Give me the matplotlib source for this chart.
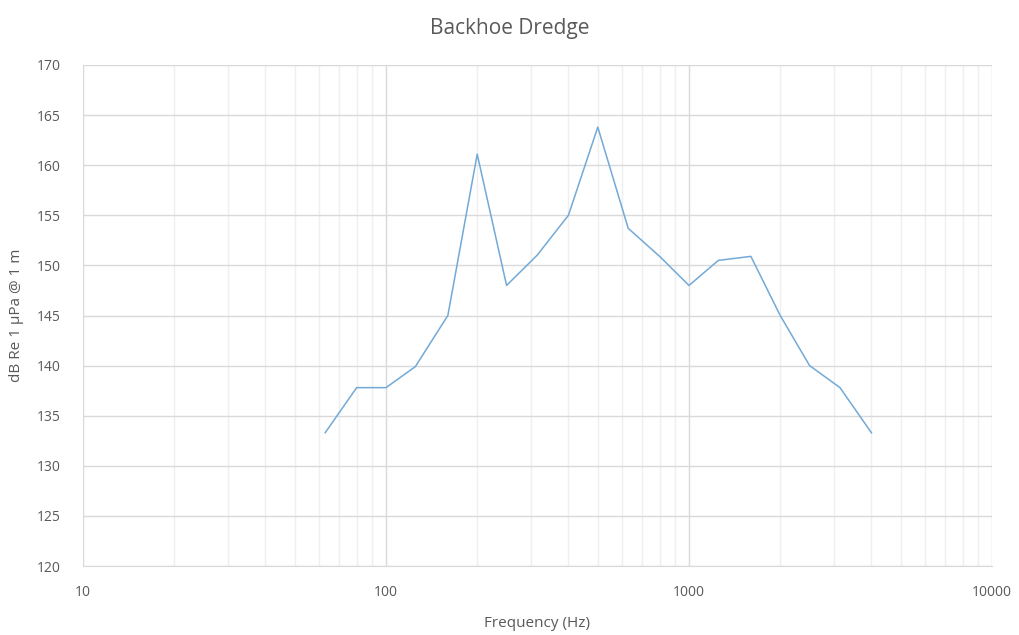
import matplotlib
matplotlib.use("Agg")
import matplotlib.pyplot as plt
from matplotlib.ticker import LogLocator, FixedLocator, FixedFormatter, NullFormatter

# One-third octave band centre frequencies (Hz) and source levels
freq_hz = [63, 80, 100, 125, 160, 200, 250, 315, 400, 500, 630, 800,
           1000, 1250, 1600, 2000, 2500, 3150, 4000]
level_db = [133.3, 137.8, 137.8, 139.9, 145.0, 161.1, 148.0, 151.0, 155.0,
            163.8, 153.7, 150.9, 148.0, 150.5, 150.9, 145.0, 140.0, 137.8, 133.3]

x_ticks = [10, 100, 1000, 10000]
x_tick_labels = ["10", "100", "1000", "10000"]
y_ticks = list(range(120, 171, 5))

plt.rcParams["font.family"] = ["Open Sans", "DejaVu Sans"]
text_color = "#595959"

fig = plt.figure(figsize=(10.19, 6.35), dpi=100)
ax = fig.add_axes([83 / 1019, 69 / 635, (992 - 83) / 1019, (566 - 65) / 635])

ax.plot(freq_hz, level_db, color="#72a9d6", linewidth=1.1, zorder=3)

ax.set_xscale("log")
ax.set_xlim(10, 10000)
ax.set_ylim(120, 170)

ax.xaxis.set_major_locator(FixedLocator(x_ticks))
ax.xaxis.set_major_formatter(FixedFormatter(x_tick_labels))
ax.xaxis.set_minor_locator(LogLocator(base=10, subs=range(2, 10)))
ax.xaxis.set_minor_formatter(NullFormatter())
ax.set_yticks(y_ticks)

ax.grid(which="major", color="#d9d9d9", linewidth=1.0, zorder=0)
ax.grid(which="minor", axis="x", color="#efefef", linewidth=1.0, zorder=0)
ax.set_axisbelow(True)

for side in ["top", "right", "left"]:
    ax.spines[side].set_visible(False)
ax.spines["bottom"].set_color("#d9d9d9")

ax.tick_params(axis="both", which="both", length=0, colors=text_color,
               labelsize=10)
ax.tick_params(axis="x", pad=14)
ax.tick_params(axis="y", pad=16)

ax.set_xlabel("Frequency (Hz)", color=text_color, fontsize=11, labelpad=11)
ax.set_ylabel("dB Re 1 µPa @ 1 m", color=text_color, fontsize=11, labelpad=9)
fig.text(0.5, 0.955, "Backhoe Dredge", ha="center", va="center",
         color=text_color, fontsize=15)

fig.savefig("out.png", dpi=100, facecolor="white")
